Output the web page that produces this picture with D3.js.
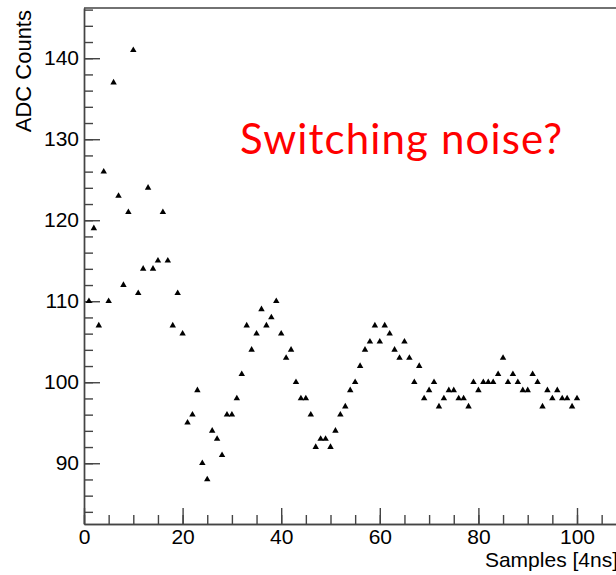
<!DOCTYPE html>
<html>
<head>
<meta charset="utf-8">
<script src="https://cdn.jsdelivr.net/npm/d3@7"></script>
<style>
  html, body { margin: 0; padding: 0; background: #fff; }
  svg { display: block; }
  .axis text { font-family: "Liberation Sans", Arial, sans-serif; font-size: 21px; fill: #000; }
  .axis path, .axis line { stroke: #444; stroke-width: 1.4; }
</style>
</head>
<body>
<div id="chart"></div>
<script>
// sample index (4ns each) and the ADC reading for it
const samples = d3.range(1, 101);
const adcCounts = [
  110, 119, 107, 126, 110, 137, 123, 112, 121, 141,
  111, 114, 124, 114, 115, 121, 115, 107, 111, 106,
  95, 96, 99, 90, 88, 94, 93, 91, 96, 96,
  98, 101, 107, 104, 106, 109, 107, 108, 110, 106,
  103, 104, 100, 98, 98, 96, 92, 93, 93, 92,
  94, 96, 97, 99, 100, 102, 104, 105, 107, 105,
  107, 106, 104, 103, 105, 103, 100, 102, 98, 99,
  100, 97, 98, 99, 99, 98, 98, 97, 100, 99,
  100, 100, 100, 101, 103, 100, 101, 100, 99, 99,
  101, 100, 97, 99, 98, 99, 98, 98, 97, 98
];
const xMajorTicks = [0, 20, 40, 60, 80, 100, 120];
const yMajorTicks = [90, 100, 110, 120, 130, 140];

const width = 616, height = 575;
const frame = {left: 84, top: 8, bottom: 524};

const svg = d3.select("#chart").append("svg")
  .attr("width", width)
  .attr("height", height);

const x = d3.scaleLinear().domain([0, 115]).range([frame.left, frame.left + 115 * 4.93]);
const y = d3.scaleLinear().domain([82.5, 146.2]).range([frame.bottom, frame.top]);

// frame (top and right sides)
svg.append("path")
  .attr("d", `M${frame.left},${frame.top}H${x(115)}V${frame.bottom}`)
  .attr("fill", "none")
  .attr("stroke", "#444")
  .attr("stroke-width", 1.4);

// minor ticks
svg.append("g")
  .attr("class", "axis")
  .attr("transform", "translate(0," + frame.bottom + ")")
  .call(d3.axisBottom(x).tickValues(d3.range(0, 116, 5)).tickSize(-9).tickSizeOuter(0).tickFormat(""));

svg.append("g")
  .attr("class", "axis")
  .attr("transform", "translate(" + frame.left + ",0)")
  .call(d3.axisLeft(y).tickValues(d3.range(84, 147, 2)).tickSize(-9).tickSizeOuter(0).tickFormat(""));

// major ticks with labels
const xAxis = svg.append("g")
  .attr("class", "axis")
  .attr("transform", "translate(0," + frame.bottom + ")")
  .call(d3.axisBottom(x).tickValues(xMajorTicks).tickSize(-16).tickSizeOuter(0).tickPadding(5));
xAxis.selectAll(".tick text").attr("dy", "0.71em");

svg.append("g")
  .attr("class", "axis")
  .attr("transform", "translate(" + frame.left + ",0)")
  .call(d3.axisLeft(y).tickValues(yMajorTicks).tickSize(-16).tickSizeOuter(0).tickPadding(5));

// axis titles (x title runs off the right edge, as in the source)
svg.append("text")
  .attr("x", 618)
  .attr("y", 567)
  .attr("text-anchor", "end")
  .attr("font-family", "Liberation Sans, Arial, sans-serif")
  .attr("font-size", 21)
  .text("Samples [4ns]");

svg.append("text")
  .attr("transform", "translate(31,10) rotate(-90)")
  .attr("text-anchor", "end")
  .attr("font-family", "Liberation Sans, Arial, sans-serif")
  .attr("font-size", 22)
  .text("ADC Counts");

// data points
const tri = d3.symbol().type(d3.symbolTriangle).size(18);
svg.append("g")
  .selectAll("path")
  .data(samples)
  .join("path")
  .attr("d", tri)
  .attr("transform", (d, i) => "translate(" + x(d) + "," + y(adcCounts[i]) + ")")
  .attr("fill", "#000");

// annotation
svg.append("text")
  .attr("x", 240)
  .attr("y", 154)
  .attr("font-family", "Lato, 'Open Sans', sans-serif")
  .attr("font-size", 42)
  .attr("textLength", 322)
  .attr("lengthAdjust", "spacing")
  .attr("fill", "#ff0000")
  .text("Switching noise?");
</script>
</body>
</html>
